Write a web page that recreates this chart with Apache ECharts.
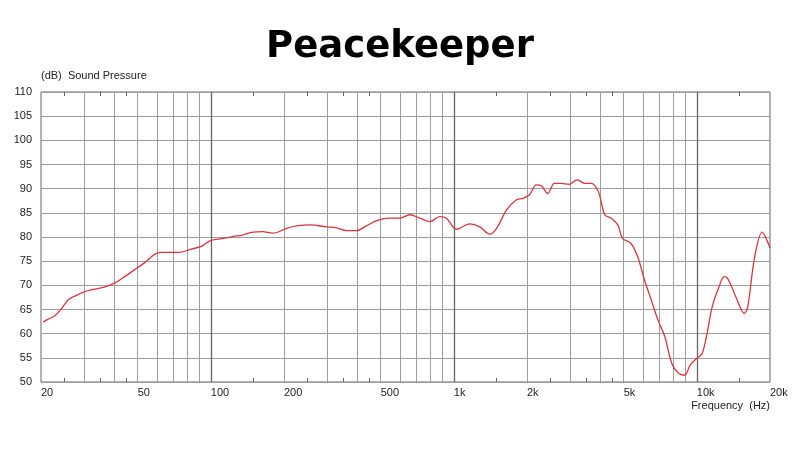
<!DOCTYPE html>
<html>
<head>
<meta charset="utf-8">
<script src="https://cdn.jsdelivr.net/npm/echarts@6/dist/echarts.min.js"></script>
<style>html,body{margin:0;padding:0;background:#fff}#c{width:800px;height:450px}</style>
</head>
<body>
<div id="c"></div>
<script>
const freqs = [20.4,21.4,22.8,24.3,25.9,27.6,30.3,33.3,36.7,40.3,44.2,48.5,53.4,58.7,62.6,73.6,83.1,91.9,99,109,123,135,149,163,180,205,225,256,300,329,362,397,437,482,546,600,659,725,797,876,932,1026,1163,1278,1405,1500,1648,1811,1928,2053,2185,2290,2435,2594,2760,2980,3220,3475,3690,3930,4050,4180,4450,4730,4950,5350,5710,6090,6490,6920,7380,7880,8400,8900,9390,10010,10510,11020,11570,12340,12950,13370,14480,15690,16200,17300,18580,19400,20000];
const spl = [62.4,63.0,63.7,65.2,67.0,67.8,68.7,69.2,69.7,70.5,71.8,73.2,74.7,76.4,76.8,76.8,77.5,78.1,79.2,79.6,80.1,80.4,81.0,81.1,80.8,81.8,82.3,82.5,82.1,81.9,81.3,81.3,82.3,83.4,83.9,83.9,84.6,83.9,83.2,84.2,83.9,81.6,82.7,82.1,80.6,81.8,85.6,87.7,88.0,88.8,90.8,90.6,89.0,91.1,91.1,90.9,91.8,91.1,91.1,89.4,87.0,84.6,83.9,82.5,79.7,78.7,75.9,71.1,67.0,62.8,59.4,53.9,51.8,51.4,53.5,54.9,55.9,60.1,65.6,69.7,71.8,71.5,67.6,64.2,65.6,75.9,81.0,79.4,77.7];
const xTickLabels = [20,50,100,200,500,1000,2000,5000,10000,20000];
const xMinorTicks = [25,35,45,150,250,350,450,1500,2500,3500,4500,15000];
const xGridLines = [30,40,50,60,70,80,90,200,300,400,500,600,700,800,900,2000,3000,4000,5000,6000,7000,8000,9000];
const xDecadeLines = [100,1000,10000];

const FONT = 'Liberation Sans';
const fmt = v => {
  const f = Math.round(Math.pow(10, v));
  return f >= 1000 ? (f / 1000) + 'k' : String(f);
};
const L = v => Math.log10(v);
const xmin = L(20), xmax = L(20000);

const chart = echarts.init(document.getElementById('c'), null, {renderer: 'canvas'});
const gridMarks = xGridLines.map(v => ({xAxis: v, lineStyle: {color: '#9e9e9e', width: 1, type: 'solid'}}))
  .concat(xDecadeLines.map(v => ({xAxis: v, lineStyle: {color: '#666666', width: 1.3, type: 'solid'}})));

chart.setOption({
  animation: false,
  backgroundColor: '#fff',
  title: {
    text: 'Peacekeeper', left: 'center', top: 24,
    textStyle: {fontFamily: 'DejaVu Sans', fontWeight: 'bold', fontSize: 37, color: '#000'}
  },
  grid: {left: 41, right: 30, top: 92, bottom: 68, show: true, borderColor: '#666666', borderWidth: 1, backgroundColor: 'transparent'},
  xAxis: [
    {type: 'log', logBase: 10, min: 20, max: 20000, show: false,
     splitLine: {show: false}},
    {type: 'value', min: xmin, max: xmax, position: 'bottom',
     axisLine: {show: false}, splitLine: {show: false},
     axisTick: {show: true, inside: true, length: 4, customValues: xMinorTicks.map(L), lineStyle: {color: '#666666'}},
     axisLabel: {show: true, customValues: xTickLabels.map(L), formatter: fmt, align: 'left', margin: 5,
                 fontFamily: FONT, fontSize: 11, color: '#222'},
     name: 'Frequency  (Hz)', nameLocation: 'end', nameGap: 0,
     nameTextStyle: {fontFamily: FONT, fontSize: 11, color: '#222', align: 'right', verticalAlign: 'top', padding: [18, 0, 0, 0]}},
    {type: 'value', min: xmin, max: xmax, position: 'top',
     axisLine: {show: false}, splitLine: {show: false},
     axisTick: {show: true, inside: true, length: 4, customValues: xMinorTicks.map(L), lineStyle: {color: '#666666'}},
     axisLabel: {show: false}}
  ],
  yAxis: {
    type: 'value', min: 50, max: 110, interval: 5,
    axisLine: {show: false}, axisTick: {show: false},
    axisLabel: {fontFamily: FONT, fontSize: 11, color: '#222', margin: 9},
    splitLine: {show: true, lineStyle: {color: '#9e9e9e', width: 1}},
    name: '(dB)  Sound Pressure', nameLocation: 'end', nameGap: 16,
    nameTextStyle: {fontFamily: FONT, fontSize: 11, color: '#222', align: 'left', verticalAlign: 'middle'}
  },
  series: [
    {type: 'line', xAxisIndex: 0, data: [], z: 1, silent: true,
     markLine: {silent: true, symbol: ['none', 'none'], label: {show: false}, animation: false, data: gridMarks}},
    {type: 'line', xAxisIndex: 0, z: 5, smooth: 0.35, showSymbol: false, symbol: 'none',
     lineStyle: {color: '#d8363e', width: 1.3},
     data: freqs.map((f, i) => [f, spl[i]])}
  ]
});
</script>
</body>
</html>
